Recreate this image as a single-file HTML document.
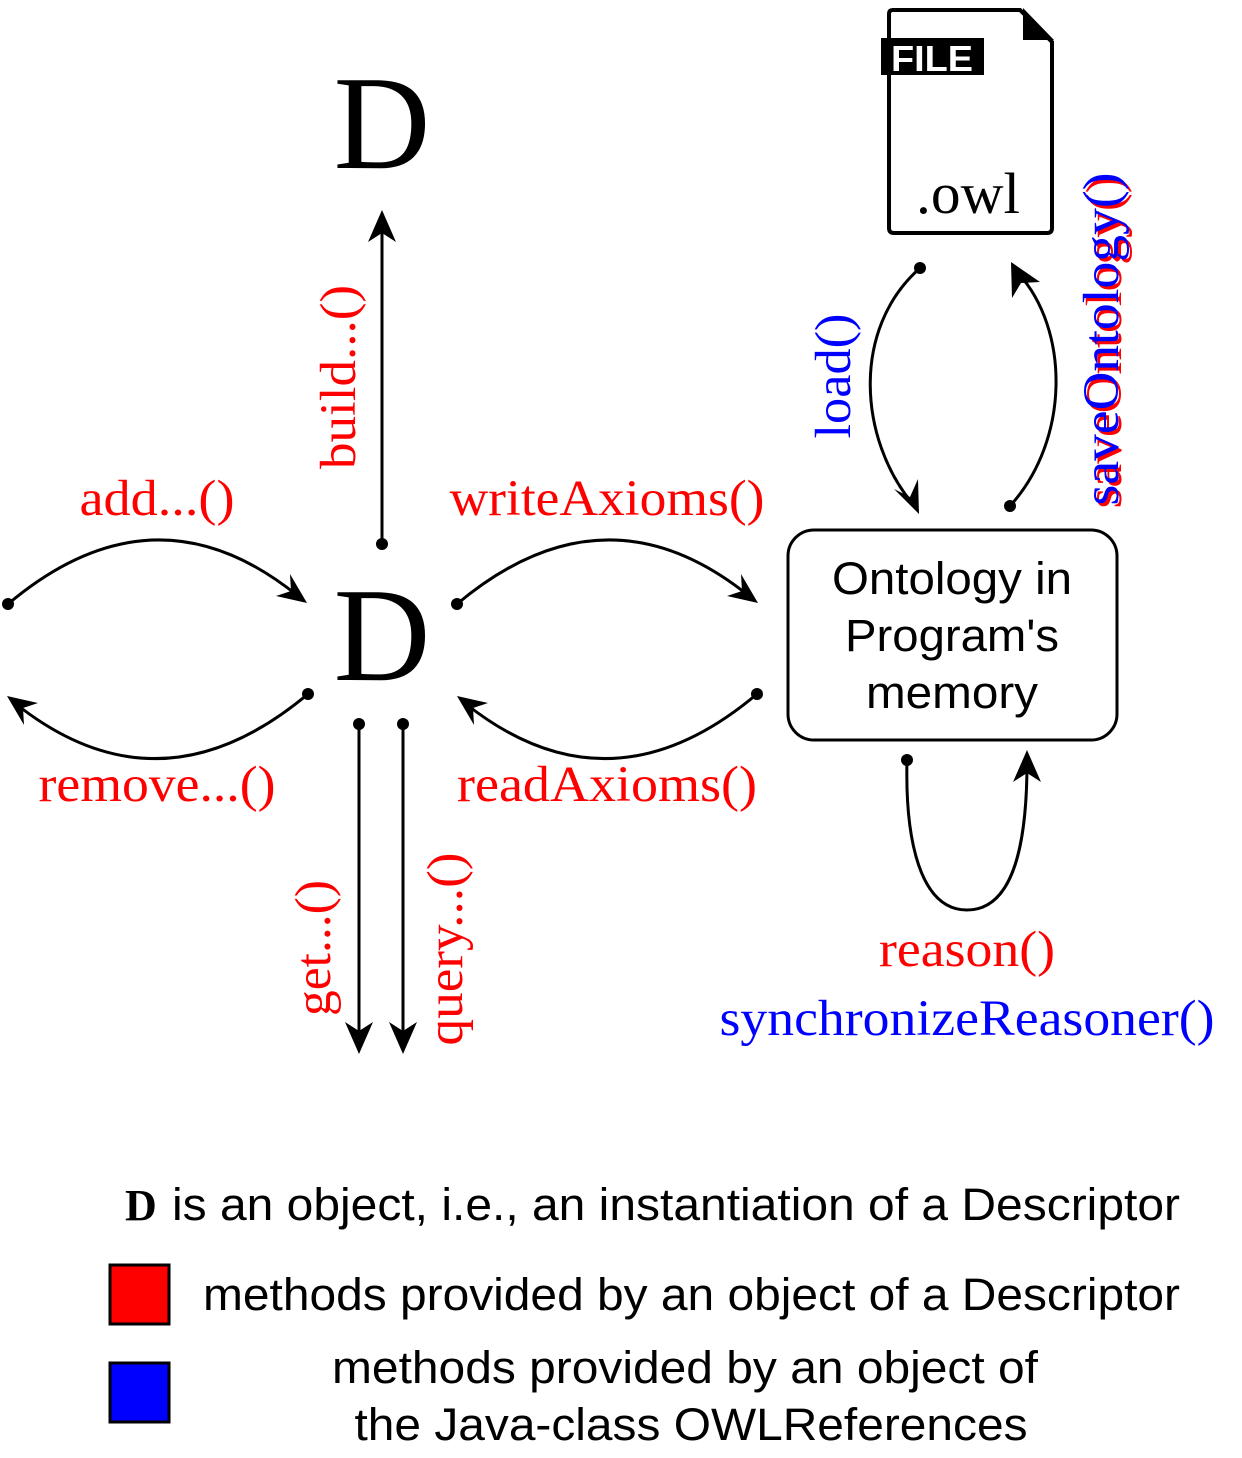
<!DOCTYPE html>
<html><head><meta charset="utf-8"><style>
html,body{margin:0;padding:0;background:#fff;}
svg{display:block;}
.s{font-family:"Liberation Serif",serif;}
.a{font-family:"Liberation Sans",sans-serif;}
</style></head><body>
<svg width="1242" height="1458" viewBox="0 0 1242 1458" xmlns="http://www.w3.org/2000/svg">
<g fill="none" stroke="#000" stroke-width="3">
<line x1="382" y1="544" x2="382" y2="222"/>
<path d="M8,604 Q155,480 298,596"/>
<path d="M308,694 Q160,818 16,704"/>
<path d="M457,604 Q605,480 749,596"/>
<path d="M757,694 Q610,818 466,704"/>
<line x1="359" y1="724" x2="359" y2="1042"/>
<line x1="403" y1="724" x2="403" y2="1042"/>
<path d="M920,268 C850,330 860,440 912,503"/>
<path d="M1010,506 C1070,440 1070,330 1018,273"/>
<path d="M907,760 C905,840 920,910 967,910 C1015,910 1027,840 1027,762"/>
<rect x="788" y="530" width="329" height="210" rx="26" ry="26"/>
</g>
<g fill="#000">
<circle cx="382" cy="544" r="6"/>
<polygon points="382,210 368,242 382,233 396,242"/>
<circle cx="8" cy="604" r="6"/>
<polygon points="307,603 290,574 291,591 276,596"/>
<circle cx="308" cy="694" r="6"/>
<polygon points="7,696 24,725 23,708 38,703"/>
<circle cx="457" cy="604" r="6"/>
<polygon points="758,603 741,574 742,591 727,596"/>
<circle cx="757" cy="694" r="6"/>
<polygon points="457,696 474,725 473,708 488,703"/>
<circle cx="359" cy="724" r="6"/>
<circle cx="403" cy="724" r="6"/>
<polygon points="359,1054 345,1022 359,1031 373,1022"/>
<polygon points="403,1054 389,1022 403,1031 417,1022"/>
<circle cx="920" cy="268" r="6"/>
<polygon points="919,514 894,489 910,497 918,479"/>
<circle cx="1010" cy="506" r="6"/>
<polygon points="1011,262 1012,298 1021,283 1040,282"/>
<circle cx="907" cy="760" r="6"/>
<polygon points="1027,750 1013,782 1027,773 1041,782"/>
</g>
<path d="M892,10 L1020,10 L1052,42 L1052,228 Q1052,233 1047,233 L894,233 Q889,233 889,228 L889,14 Q889,10 893,10 Z" fill="none" stroke="#000" stroke-width="4"/>
<polygon points="1023,8 1054,40 1023,40" fill="#000"/>
<rect x="881" y="38" width="103" height="37" fill="#000"/>
<text x="932" y="71" class="a" font-size="36" font-weight="bold" fill="#fff" text-anchor="middle" textLength="82" lengthAdjust="spacingAndGlyphs">FILE</text>
<text x="968" y="213" class="s" font-size="58" text-anchor="middle" textLength="104" lengthAdjust="spacingAndGlyphs">.owl</text>
<text x="382" y="168" class="s" font-size="134" text-anchor="middle">D</text>
<text x="382" y="680" class="s" font-size="134" text-anchor="middle">D</text>
<g class="s" font-size="51" fill="#f00" lengthAdjust="spacingAndGlyphs">
<text x="157" y="515" text-anchor="middle" textLength="155" lengthAdjust="spacingAndGlyphs">add...()</text>
<text x="157" y="801" text-anchor="middle" textLength="237" lengthAdjust="spacingAndGlyphs">remove...()</text>
<text x="607" y="515" text-anchor="middle" textLength="315" lengthAdjust="spacingAndGlyphs">writeAxioms()</text>
<text x="607" y="801" text-anchor="middle" textLength="300" lengthAdjust="spacingAndGlyphs">readAxioms()</text>
<text x="967" y="966" text-anchor="middle" textLength="176" lengthAdjust="spacingAndGlyphs">reason()</text>
<text transform="translate(355,377) rotate(-90)" text-anchor="middle" textLength="184" lengthAdjust="spacingAndGlyphs">build...()</text>
<text transform="translate(330,948) rotate(-90)" text-anchor="middle" textLength="136" lengthAdjust="spacingAndGlyphs">get...()</text>
<text transform="translate(462,949) rotate(-90)" text-anchor="middle" textLength="193" lengthAdjust="spacingAndGlyphs">query...()</text>
<text transform="translate(1121,342) rotate(-90)" text-anchor="middle" textLength="333" lengthAdjust="spacingAndGlyphs">saveOntology()</text>
</g>
<g class="s" font-size="51" fill="#00f">
<text transform="translate(1118,339) rotate(-90)" text-anchor="middle" textLength="333" lengthAdjust="spacingAndGlyphs">saveOntology()</text>
<text transform="translate(850,376) rotate(-90)" text-anchor="middle" textLength="125" lengthAdjust="spacingAndGlyphs">load()</text>
<text x="967" y="1035" text-anchor="middle" textLength="495" lengthAdjust="spacingAndGlyphs">synchronizeReasoner()</text>
</g>
<g class="a" font-size="45" text-anchor="middle">
<text x="952" y="594" textLength="240" lengthAdjust="spacingAndGlyphs">Ontology in</text>
<text x="952" y="651" textLength="214" lengthAdjust="spacingAndGlyphs">Program's</text>
<text x="952" y="708" textLength="172" lengthAdjust="spacingAndGlyphs">memory</text>
</g>
<text x="125" y="1220" class="s" font-size="44" font-weight="bold">D</text>
<text x="172" y="1220" class="a" font-size="45" textLength="1008" lengthAdjust="spacingAndGlyphs">is an object, i.e., an instantiation of a Descriptor</text>
<rect x="110" y="1265" width="59" height="59" fill="#f00" stroke="#000" stroke-width="3"/>
<text x="203" y="1310" class="a" font-size="45" textLength="977" lengthAdjust="spacingAndGlyphs">methods provided by an object of a Descriptor</text>
<rect x="110" y="1363" width="59" height="59" fill="#00f" stroke="#000" stroke-width="3"/>
<text x="685" y="1383" class="a" font-size="45" text-anchor="middle" textLength="706" lengthAdjust="spacingAndGlyphs">methods provided by an object of</text>
<text x="691" y="1440" class="a" font-size="45" text-anchor="middle" textLength="673" lengthAdjust="spacingAndGlyphs">the Java-class OWLReferences</text>
</svg>
</body></html>
